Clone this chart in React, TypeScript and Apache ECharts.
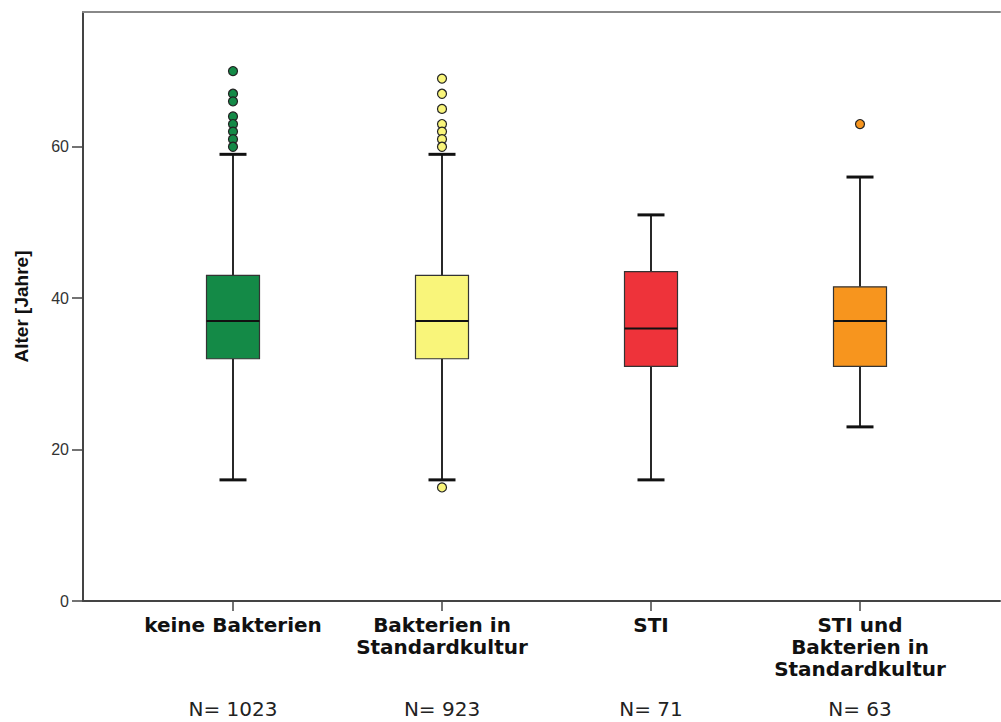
import React, { useEffect, useRef } from "react";
import * as echarts from "echarts";

const categories = ["keine Bakterien", "Bakterien in\nStandardkultur", "STI", "STI und\nBakterien in\nStandardkultur"];
const counts = ["N= 1023", "N= 923", "N= 71", "N= 63"];
// [min whisker, Q1, median, Q3, max whisker]
const boxStats = [
  [16, 32, 37, 43, 59],
  [16, 32, 37, 43, 59],
  [16, 31, 36, 43.5, 51],
  [23, 31, 37, 41.5, 56],
];
const outliers = [
  [70, 67, 66, 64, 63, 62, 61, 60],
  [69, 67, 65, 63, 62, 61, 60, 15],
  [],
  [63],
];
const colors = ["#148A47", "#F9F57A", "#EE333A", "#F7951E"];
const yTicks = [0, 20, 40, 60];

export default function App() {
  const ref = useRef<HTMLDivElement>(null);
  useEffect(() => {
    if (!ref.current) return;
    const chart = echarts.init(ref.current, null, { renderer: "svg" });
    const Y_MAX = 77.8;
    const boxData = boxStats.map((s, i) => [i, ...s]);
    const outlierData: any[] = [];
    outliers.forEach((arr, i) =>
      arr.forEach((v) =>
        outlierData.push({ value: [i, v], itemStyle: { color: colors[i] } })
      )
    );
    chart.setOption({
      animation: false,
      backgroundColor: "#ffffff",
      grid: [
        { left: 83, right: 1, top: 12, bottom: 121 },
        { left: 128.5, right: 36.5, top: 12, bottom: 121 },
      ],
      xAxis: [
        {
          gridIndex: 0, type: "category", data: [""], position: "bottom",
          axisLine: { lineStyle: { color: "#444", width: 2 } },
          axisTick: { show: false }, axisLabel: { show: false },
        },
        {
          gridIndex: 0, type: "category", data: [""], position: "top",
          axisLine: { lineStyle: { color: "#888", width: 2 } },
          axisTick: { show: false }, axisLabel: { show: false },
        },
        {
          gridIndex: 1, type: "category", data: categories, position: "bottom",
          axisLine: { show: false },
          axisTick: { show: true, alignWithLabel: true, length: 10, lineStyle: { color: "#444", width: 1.5 } },
          axisLabel: {
            margin: 13, color: "#111", fontFamily: "DejaVu Sans", fontWeight: "bold",
            fontSize: 20, lineHeight: 22, interval: 0, align: "center",
          },
        },
        {
          gridIndex: 1, type: "category", data: counts, position: "bottom", offset: 97,
          axisLine: { show: false }, axisTick: { show: false },
          axisLabel: { margin: 0, color: "#222", fontFamily: "DejaVu Sans", fontSize: 20, lineHeight: 22, interval: 0 },
        },
      ],
      yAxis: [
        {
          gridIndex: 0, type: "value", min: 0, max: Y_MAX,
          name: "Alter [Jahre]", nameLocation: "middle", nameGap: 52, nameRotate: 90,
          nameTextStyle: { fontFamily: "Liberation Sans", fontWeight: "bold", fontSize: 19, color: "#111" },
          axisLine: { show: true, lineStyle: { color: "#444", width: 2 } },
          axisTick: { show: true, length: 11, customValues: yTicks, lineStyle: { color: "#444", width: 1.5 } },
          axisLabel: { customValues: yTicks, margin: 14, color: "#333", fontFamily: "Liberation Sans", fontSize: 16 },
          splitLine: { show: false },
        },
        {
          gridIndex: 1, type: "value", min: 0, max: Y_MAX, show: false, splitLine: { show: false },
        },
      ],
      series: [
        {
          type: "custom",
          xAxisIndex: 2,
          yAxisIndex: 1,
          data: boxData,
          renderItem: (params: any, api: any) => {
            const idx = api.value(0);
            const lo = api.coord([idx, api.value(1)]);
            const q1 = api.coord([idx, api.value(2)]);
            const med = api.coord([idx, api.value(3)]);
            const q3 = api.coord([idx, api.value(4)]);
            const hi = api.coord([idx, api.value(5)]);
            const x = lo[0];
            const hb = 26.5;
            const hc = 13.5;
            const stroke = "#111";
            return {
              type: "group",
              children: [
                { type: "line", shape: { x1: x, y1: hi[1], x2: x, y2: q3[1] }, style: { stroke, lineWidth: 1.8 } },
                { type: "line", shape: { x1: x, y1: q1[1], x2: x, y2: lo[1] }, style: { stroke, lineWidth: 1.8 } },
                { type: "line", shape: { x1: x - hc, y1: hi[1], x2: x + hc, y2: hi[1] }, style: { stroke, lineWidth: 3 } },
                { type: "line", shape: { x1: x - hc, y1: lo[1], x2: x + hc, y2: lo[1] }, style: { stroke, lineWidth: 3 } },
                {
                  type: "rect",
                  shape: { x: x - hb, y: q3[1], width: 2 * hb, height: q1[1] - q3[1] },
                  style: { fill: colors[idx], stroke: "#333", lineWidth: 1.2 },
                },
                { type: "line", shape: { x1: x - hb, y1: med[1], x2: x + hb, y2: med[1] }, style: { stroke, lineWidth: 2 } },
              ],
            };
          },
          z: 2,
        },
        {
          type: "scatter",
          xAxisIndex: 2,
          yAxisIndex: 1,
          data: outlierData,
          symbol: "circle",
          symbolSize: 9,
          itemStyle: { borderColor: "#222", borderWidth: 1.2, opacity: 1 },
          z: 3,
        },
      ],
    });
    return () => chart.dispose();
  }, []);
  return (
    <div
      ref={ref}
      style={{ position: "absolute", left: 0, top: 0, width: 1001, height: 722 }}
    />
  );
}
